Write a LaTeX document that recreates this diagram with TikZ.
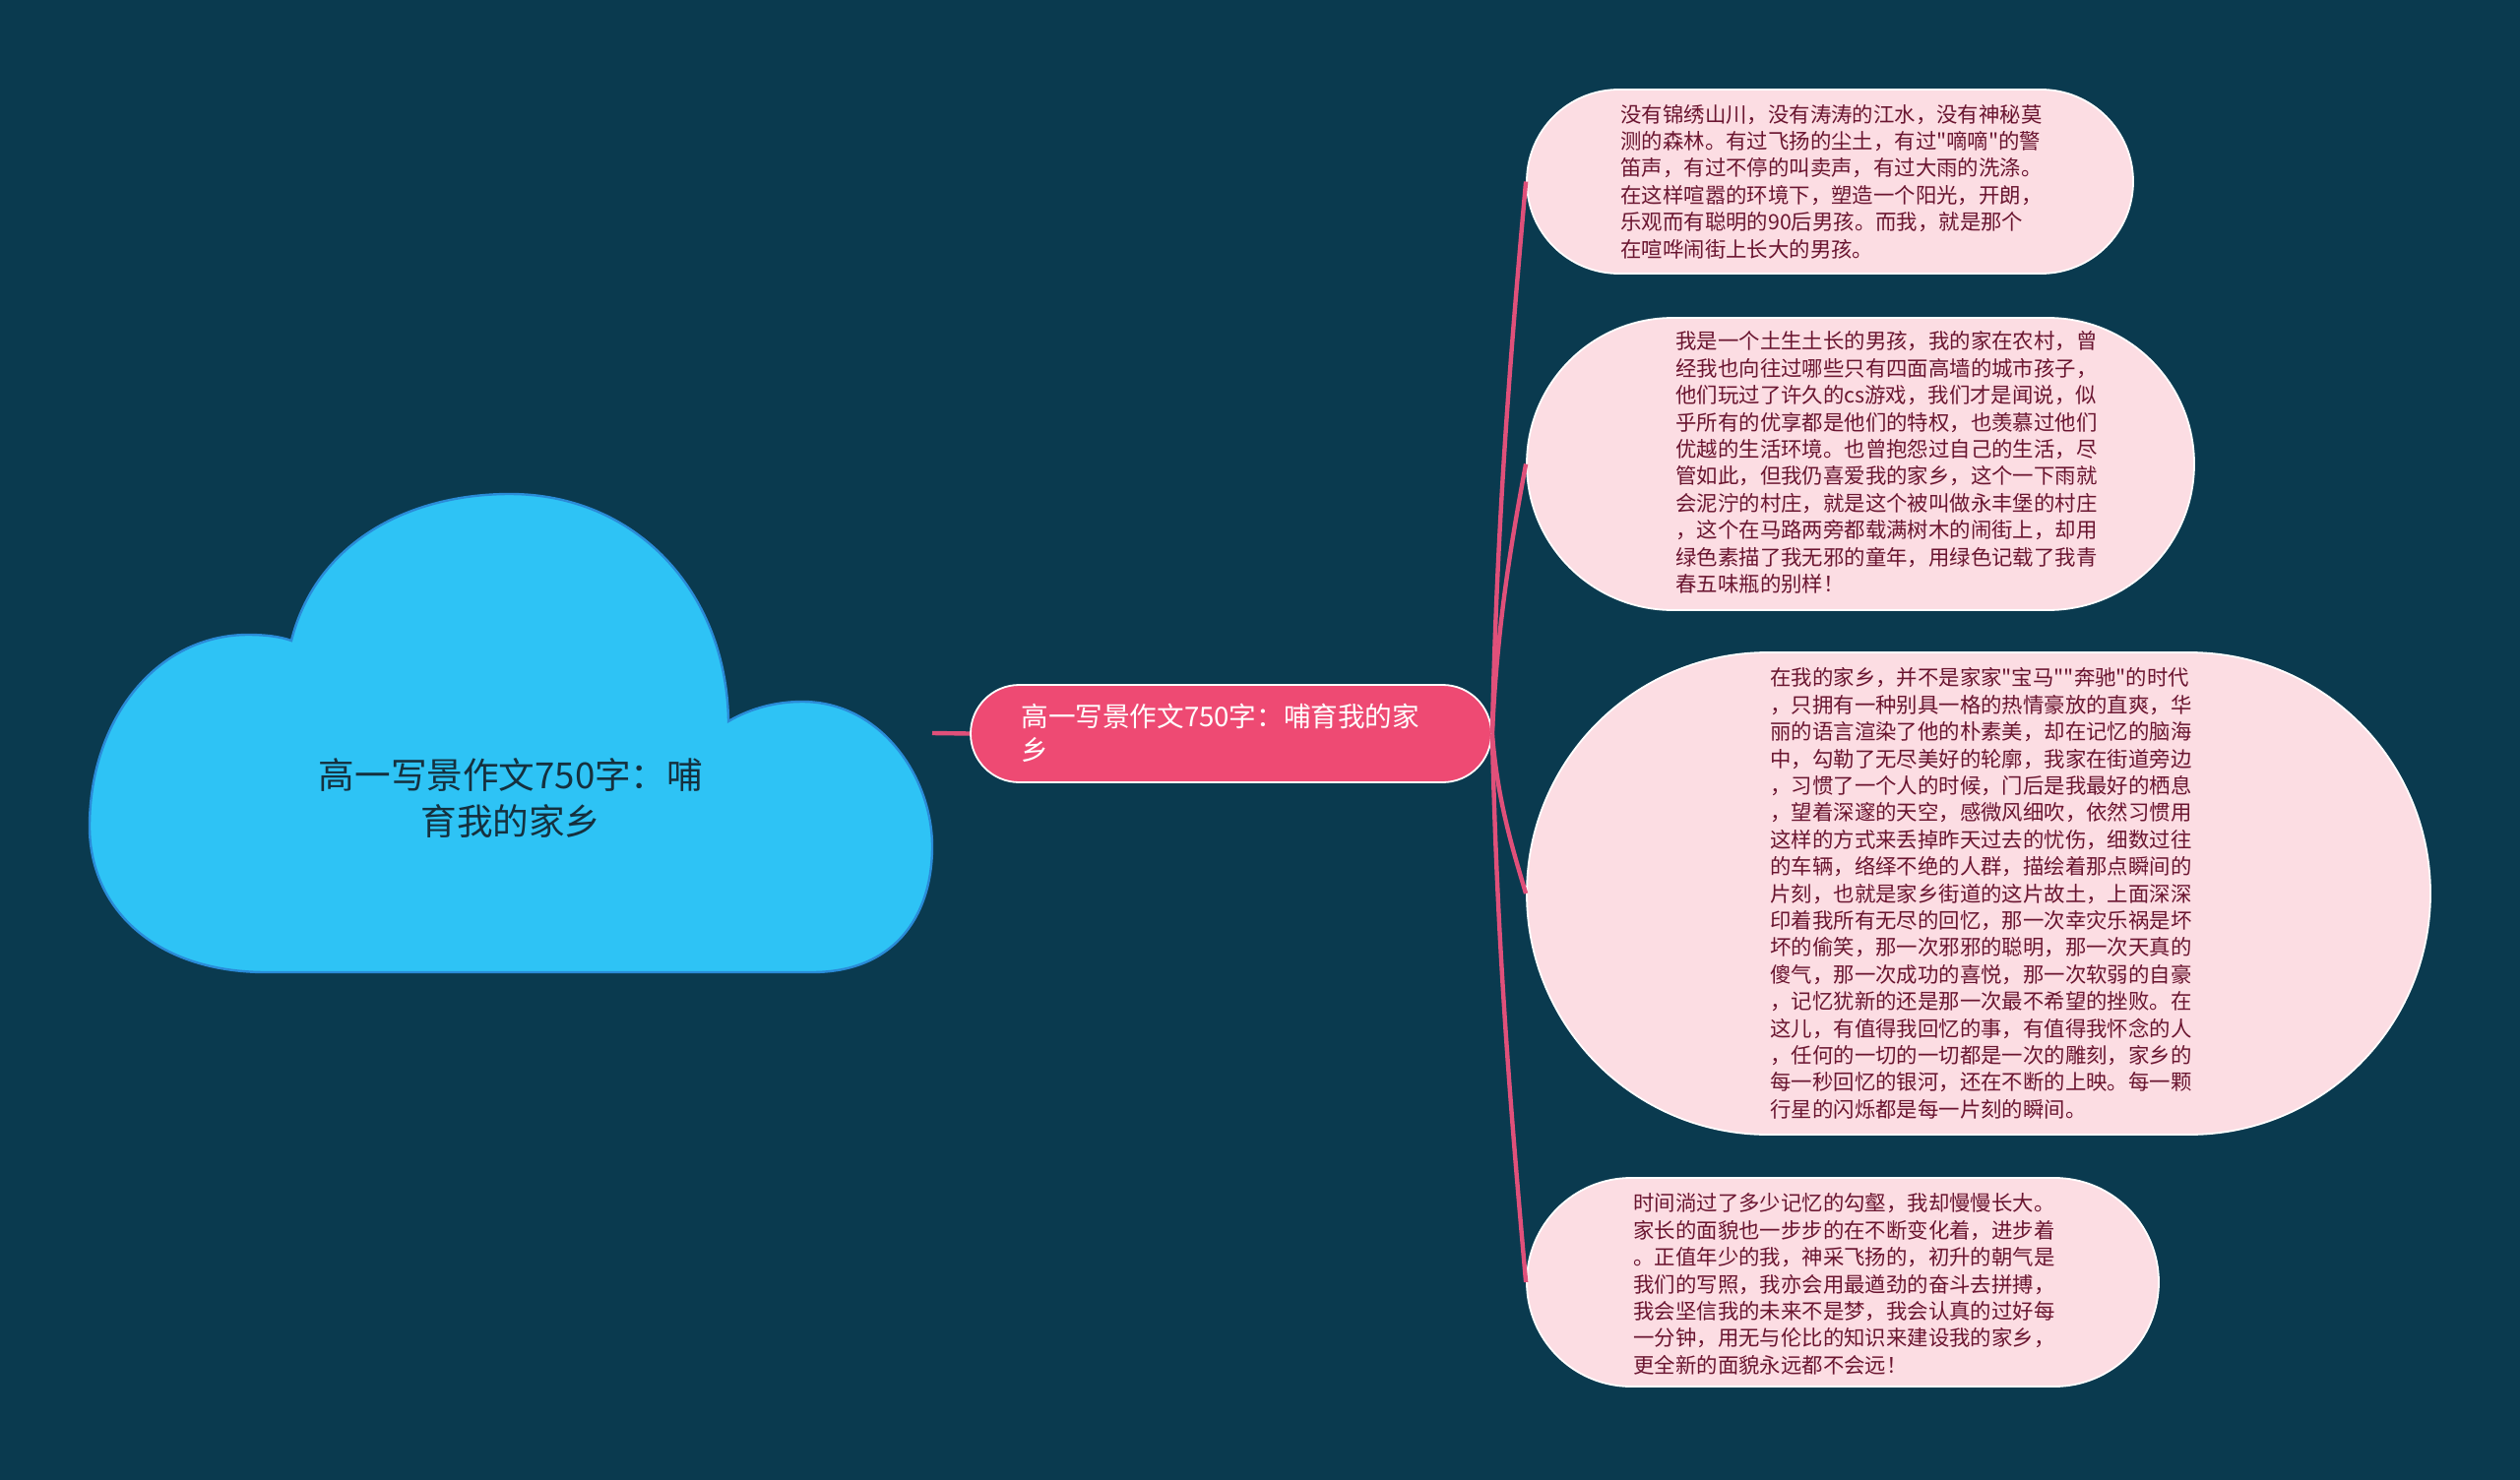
\documentclass[tikz,border=0pt]{standalone}
\usepackage{fontspec}
\newfontfamily\cjk{Noto Sans CJK SC}
\usetikzlibrary{shapes.misc}
\definecolor{bg}{HTML}{0A3A4F}
\definecolor{cloudfill}{HTML}{2EC3F5}
\definecolor{cloudline}{HTML}{2A8BD8}
\definecolor{cloudtext}{HTML}{15303E}
\definecolor{mainfill}{HTML}{EE4A73}
\definecolor{leaffill}{HTML}{FCDDE3}
\definecolor{leaftext}{HTML}{6A1530}
\definecolor{linkcol}{HTML}{E0507A}
\begin{document}
\begin{tikzpicture}[x=0.5pt,y=-0.5pt,
  leafbox/.style={rounded rectangle, fill=leaffill, draw=white, line width=0.9pt, inner sep=0pt},
  mainbox/.style={rounded rectangle, fill=mainfill, draw=white, line width=0.9pt, inner sep=0pt},
  leaflabel/.style={font=\cjk\fontsize{10.7pt}{13.7pt}\selectfont, text=leaftext, align=left, inner sep=0pt, anchor=west},
  mainlabel/.style={font=\cjk\fontsize{13.8pt}{17pt}\selectfont, text=white, align=left, inner sep=0pt, anchor=west},
  cloudlabel/.style={font=\cjk\fontsize{18.3pt}{23.7pt}\selectfont, text=cloudtext, align=center, inner sep=0pt},
  link/.style={draw=linkcol, line width=2.2pt}
]
\useasboundingbox[fill=bg] (0,0) rectangle (2560,1504);

% cloud
\path[fill=cloudfill, draw=cloudline, line width=1.2pt]
 (270,988) .. controls (160,988) and (91,925) .. (91,840)
 .. controls (91,730) and (160,645) .. (252,645)
 .. controls (270,645) and (285,647) .. (296,651)
 .. controls (320,555) and (410,502) .. (518,502)
 .. controls (645,502) and (738,600) .. (740,733)
 .. controls (762,720) and (788,713) .. (815,713)
 .. controls (895,713) and (947,790) .. (947,860)
 .. controls (947,935) and (905,988) .. (825,988)
 -- cycle;
\node[cloudlabel] (tc) at (519,811) {高一写景作文750字：哺\\育我的家乡};
\coordinate (cr) at (947,745);

% shapes
\node[mainbox, minimum width=264.5pt, minimum height=49.5pt] (m) at (1250.5,745.5) {};
\node[leafbox, minimum width=308pt, minimum height=93.5pt] (l1) at (1859,184.5) {};
\node[leafbox, minimum width=339pt, minimum height=148.5pt] (l2) at (1890,471.5) {};
\node[leafbox, minimum width=459pt, minimum height=245pt] (l3) at (2010,908) {};
\node[leafbox, minimum width=321pt, minimum height=106pt] (l4) at (1872,1303) {};

% connectors
\draw[link] (cr) -- (m.west);
\draw[link] (m.east) .. controls +(5,-224) and +(-15,168) .. (l1.west);
\draw[link] (m.east) .. controls +(5,-110) and +(-15,80) .. (l2.west);
\draw[link] (m.east) .. controls +(5,65) and +(-15,-50) .. (l3.west);
\draw[link] (m.east) .. controls +(5,220) and +(-15,-170) .. (l4.west);

% texts
\node[mainlabel] (tm) at (1037,745) {高一写景作文750字：哺育我的家\\乡};

\node[leaflabel] (t1) at (1646,184.5) {没有锦绣山川，没有涛涛的江水，没有神秘莫\\
测的森林。有过飞扬的尘土，有过"嘀嘀"的警\\
笛声，有过不停的叫卖声，有过大雨的洗涤。\\
在这样喧嚣的环境下，塑造一个阳光，开朗，\\
乐观而有聪明的90后男孩。而我，就是那个\\
在喧哗闹街上长大的男孩。};

\node[leaflabel] (t2) at (1702,470) {我是一个土生土长的男孩，我的家在农村，曾\\
经我也向往过哪些只有四面高墙的城市孩子，\\
他们玩过了许久的cs游戏，我们才是闻说，似\\
乎所有的优享都是他们的特权，也羡慕过他们\\
优越的生活环境。也曾抱怨过自己的生活，尽\\
管如此，但我仍喜爱我的家乡，这个一下雨就\\
会泥泞的村庄，就是这个被叫做永丰堡的村庄\\
，这个在马路两旁都载满树木的闹街上，却用\\
绿色素描了我无邪的童年，用绿色记载了我青\\
春五味瓶的别样！};

\node[leaflabel] (t3) at (1798,908) {在我的家乡，并不是家家"宝马""奔驰"的时代\\
，只拥有一种别具一格的热情豪放的直爽，华\\
丽的语言渲染了他的朴素美，却在记忆的脑海\\
中，勾勒了无尽美好的轮廓，我家在街道旁边\\
，习惯了一个人的时候，门后是我最好的栖息\\
，望着深邃的天空，感微风细吹，依然习惯用\\
这样的方式来丢掉昨天过去的忧伤，细数过往\\
的车辆，络绎不绝的人群，描绘着那点瞬间的\\
片刻，也就是家乡街道的这片故土，上面深深\\
印着我所有无尽的回忆，那一次幸灾乐祸是坏\\
坏的偷笑，那一次邪邪的聪明，那一次天真的\\
傻气，那一次成功的喜悦，那一次软弱的自豪\\
，记忆犹新的还是那一次最不希望的挫败。在\\
这儿，有值得我回忆的事，有值得我怀念的人\\
，任何的一切的一切都是一次的雕刻，家乡的\\
每一秒回忆的银河，还在不断的上映。每一颗\\
行星的闪烁都是每一片刻的瞬间。};

\node[leaflabel] (t4) at (1659,1305) {时间淌过了多少记忆的勾壑，我却慢慢长大。\\
家长的面貌也一步步的在不断变化着，进步着\\
。正值年少的我，神采飞扬的，初升的朝气是\\
我们的写照，我亦会用最遒劲的奋斗去拼搏，\\
我会坚信我的未来不是梦，我会认真的过好每\\
一分钟，用无与伦比的知识来建设我的家乡，\\
更全新的面貌永远都不会远！};
\end{tikzpicture}
\end{document}
